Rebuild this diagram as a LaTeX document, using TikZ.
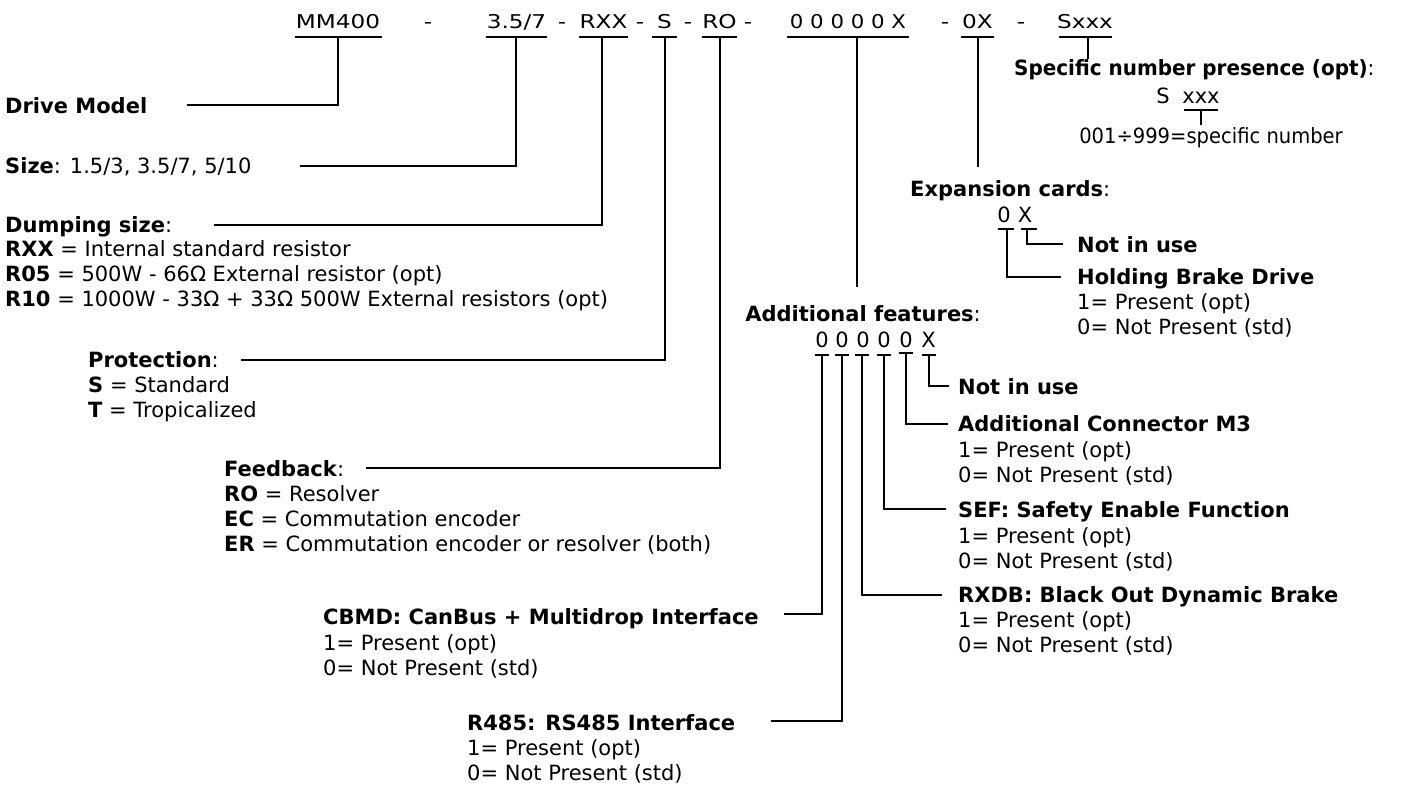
\documentclass[tikz,border=0pt]{standalone}
\usepackage{fontspec}
\setmainfont{DejaVu Sans}
\usepackage{graphicx}
\newcommand\wtxt[1]{\scalebox{1.22}[1]{#1}}
\newcommand\ntxt[1]{\scalebox{0.93}[1]{#1}}
\newcommand\htxt[1]{\scalebox{0.95}[1]{#1}}
\tikzset{
  ln/.style={line width=2.2pt},
  lbl/.style={anchor=base west, inner sep=0pt, font=\fontsize{21}{25}\selectfont},
  code/.style={anchor=base, inner sep=0pt, font=\fontsize{19}{22}\selectfont},
  chr/.style={anchor=base, inner sep=0pt, font=\fontsize{21}{25}\selectfont},
}
\begin{document}
\begin{tikzpicture}[x=1pt,y=-1pt]
\useasboundingbox (0,0) rectangle (1401,785);

% ---------- top code row ----------
\node[code] (c1) at (338,28) {\wtxt{MM400}};
\node[code] (h1) at (428,28) {\wtxt{-}};
\node[code] (c2) at (516.5,28) {\wtxt{3.5/7}};
\node[code] (h2) at (562,28) {\wtxt{-}};
\node[code] (c3) at (603.5,28) {\wtxt{RXX}};
\node[code] (h3) at (640,28) {\wtxt{-}};
\node[code] (c4) at (664.5,28) {\wtxt{S}};
\node[code] (h4) at (688,28) {\wtxt{-}};
\node[code] (c5) at (719.5,28) {\wtxt{RO}};
\node[code] (h5) at (748,28) {\wtxt{-}};
\node[code] (c6) at (848,28) {\scalebox{1.12}[1]{0 0 0 0 0 X}};
\node[code] (h6) at (945,28) {\wtxt{-}};
\node[code] (c7) at (977.5,28) {\wtxt{0X}};
\node[code] (h7) at (1021,28) {\wtxt{-}};
\node[code] (c8) at (1085,28) {\wtxt{Sxxx}};

% underlines
\draw[ln] (295,37) -- (382,37);
\draw[ln] (486,37) -- (547,37);
\draw[ln] (579,37) -- (628,37);
\draw[ln] (652,37) -- (677,37);
\draw[ln] (702,37) -- (737,37);
\draw[ln] (787,37) -- (909,37);
\draw[ln] (961,37) -- (994,37);
\draw[ln] (1059,37) -- (1112,37);

% stem tops
\coordinate (s1) at (338,37);
\coordinate (s2) at (516,37);
\coordinate (s3) at (602,37);
\coordinate (s4) at (665,37);
\coordinate (s5) at (720,37);
\coordinate (s6) at (857,37);
\coordinate (s7) at (978,37);
\coordinate (s8) at (1088,37);

% ---------- left labels ----------
\node[lbl] (dm) at (5,113) {\textbf{Drive Model}};
\node[lbl] (sz) at (5,173) {\textbf{Size}: 1.5/3, 3.5/7, 5/10};
\node[lbl] (dp) at (5,232) {\textbf{Dumping size}:};
\node[lbl] (dp1) at (5,256) {\textbf{RXX} = Internal standard resistor};
\node[lbl] (dp2) at (5,281) {\textbf{R05} = 500W - 66Ω External resistor (opt)};
\node[lbl] (dp3) at (5,306) {\textbf{R10} = 1000W - 33Ω + 33Ω 500W External resistors (opt)};
\node[lbl] (pr) at (88,367) {\textbf{Protection}:};
\node[lbl] (pr1) at (88,392) {\textbf{S} = Standard};
\node[lbl] (pr2) at (88,417) {\textbf{T} = Tropicalized};
\node[lbl] (fb) at (224,476) {\textbf{Feedback}:};
\node[lbl] (fb1) at (224,501) {\textbf{RO} = Resolver};
\node[lbl] (fb2) at (224,526) {\textbf{EC} = Commutation encoder};
\node[lbl] (fb3) at (224,551) {\textbf{ER} = Commutation encoder or resolver (both)};
\node[lbl] (cb) at (323,624) {\textbf{CBMD: CanBus + Multidrop Interface}};
\node[lbl] (cb1) at (323,650) {1= Present (opt)};
\node[lbl] (cb2) at (323,675) {0= Not Present (std)};
\node[lbl] (rs) at (467,730) {\textbf{R485: RS485 Interface}};
\node[lbl] (rs1) at (467,755) {1= Present (opt)};
\node[lbl] (rs2) at (467,780) {0= Not Present (std)};

\coordinate (e1) at (187,105);
\coordinate (e2) at (300,166);
\coordinate (e3) at (214,225);
\coordinate (e4) at (241,360);
\coordinate (e5) at (366,468);
\draw[ln] (s1) |- (e1);
\draw[ln] (s2) |- (e2);
\draw[ln] (s3) |- (e3);
\draw[ln] (s4) |- (e4);
\draw[ln] (s5) |- (e5);

% ---------- specific number ----------
\node[lbl] (sp) at (1014,75) {\htxt{\textbf{Specific number presence (opt)}:}};
\coordinate (e8) at (1088,59);
\draw[ln] (s8) -- (e8);
\node[chr] (spS) at (1163,103) {S};
\node[chr] (spX) at (1201,103) {xxx};
\draw[ln] (1184,110) -- (1218,110);
\coordinate (t8) at (1201,110);
\coordinate (u8) at (1201,125);
\draw[ln] (t8) -- (u8);
\node[chr] (sp1) at (1211,143) {\ntxt{001÷999=specific number}};

% ---------- expansion cards ----------
\coordinate (e7) at (978,167);
\draw[ln] (s7) -- (e7);
\node[lbl] (ex) at (910,196) {\textbf{Expansion cards}:};
\node[chr] (ex0) at (1004,222) {0};
\node[chr] (exX) at (1025,222) {X};
\draw[ln] (998,229) -- (1014,229);
\draw[ln] (1021,229) -- (1037,229);
\coordinate (x0) at (1007,229);
\coordinate (xX) at (1027,229);
\coordinate (g0) at (1061,277);
\coordinate (gX) at (1063,244);
\draw[ln] (xX) |- (gX);
\draw[ln] (x0) |- (g0);
\node[lbl] (exn) at (1077,252) {\textbf{Not in use}};
\node[lbl] (exh) at (1077,284) {\textbf{Holding Brake Drive}};
\node[lbl] (exh1) at (1077,309) {1= Present (opt)};
\node[lbl] (exh2) at (1077,334) {0= Not Present (std)};

% ---------- additional features ----------
\coordinate (e6) at (857,287);
\draw[ln] (s6) -- (e6);
\node[lbl, anchor=base east] (af) at (981,321) {\textbf{Additional features}:};
\node[chr] (a1) at (822,347) {0};
\node[chr] (a2) at (842,347) {0};
\node[chr] (a3) at (863,347) {0};
\node[chr] (a4) at (884,347) {0};
\node[chr] (a5) at (906,347) {0};
\node[chr] (a6) at (928.5,347) {X};
\foreach \xx/\yy in {822/355,842/355,862/355,884/355,906/353,929/355}{
  \draw[ln] (\xx-7,\yy) -- (\xx+7,\yy);
}
\coordinate (b1) at (822,355);
\coordinate (b2) at (842,355);
\coordinate (b3) at (862,355);
\coordinate (b4) at (884,355);
\coordinate (b5) at (906,353);
\coordinate (b6) at (929,355);
\coordinate (k1) at (784,614);
\coordinate (k2) at (771,721);
\coordinate (k3) at (942,595);
\coordinate (k4) at (946,509);
\coordinate (k5) at (948,424);
\coordinate (k6) at (949,386);
\draw[ln] (b1) |- (k1);
\draw[ln] (b2) |- (k2);
\draw[ln] (b3) |- (k3);
\draw[ln] (b4) |- (k4);
\draw[ln] (b5) |- (k5);
\draw[ln] (b6) |- (k6);

\node[lbl] (n6) at (958,394) {\textbf{Not in use}};
\node[lbl] (n5) at (958,431) {\textbf{Additional Connector M3}};
\node[lbl] (n51) at (958,457) {1= Present (opt)};
\node[lbl] (n52) at (958,482) {0= Not Present (std)};
\node[lbl] (n4) at (958,517) {\textbf{SEF: Safety Enable Function}};
\node[lbl] (n41) at (958,543) {1= Present (opt)};
\node[lbl] (n42) at (958,568) {0= Not Present (std)};
\node[lbl] (n3) at (958,602) {\textbf{RXDB: Black Out Dynamic Brake}};
\node[lbl] (n31) at (958,627) {1= Present (opt)};
\node[lbl] (n32) at (958,652) {0= Not Present (std)};
\end{tikzpicture}
\end{document}
